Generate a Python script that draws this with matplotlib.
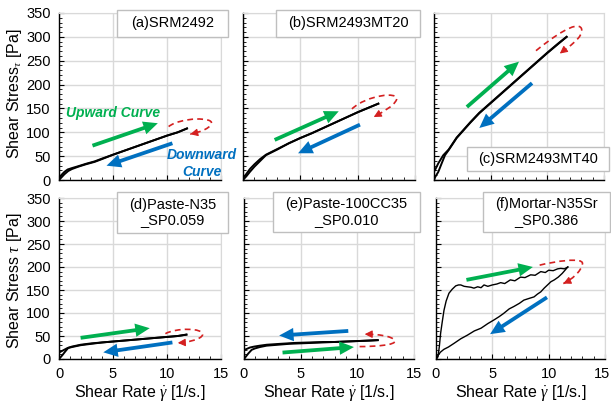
import numpy as np
import matplotlib
matplotlib.use('Agg')
import matplotlib.pyplot as plt
from matplotlib.path import Path
from matplotlib.patches import PathPatch, Rectangle
from matplotlib.ticker import MultipleLocator, FixedFormatter, FixedLocator

plt.rcParams['font.family'] = ['Liberation Sans', 'DejaVu Sans']
plt.rcParams['mathtext.fontset'] = 'custom'
plt.rcParams['mathtext.it'] = 'Liberation Serif:italic'
plt.rcParams['mathtext.rm'] = 'Liberation Sans'

# ---- data ----
labels = ['(a)SRM2492', '(b)SRM2493MT20', '(c)SRM2493MT40',
          '(d)Paste-N35\n_SP0.059', '(e)Paste-100CC35\n_SP0.010', '(f)Mortar-N35Sr\n_SP0.386']
x_ticks = [0, 5, 10, 15]

a_up_x = [0, 0.25, 0.5, 0.86, 1.2, 1.8, 2.5, 3.3, 4, 5, 6, 7, 8, 9, 10, 11, 11.85]
a_up_y = [0, 6, 12, 19, 23, 28, 33, 38, 44, 53, 61, 69, 77, 85, 93, 100, 108]
a_dn_x = [11.85, 11, 10, 9, 8, 7, 6, 5, 4, 3.3, 2.5, 1.8, 1.2, 0.8, 0.5, 0.2, 0]
a_dn_y = [108, 100, 93, 85, 77, 69, 61, 53, 45, 39, 34, 29, 25, 22, 17, 10, 3]

b_up_x = [0, 0.3, 0.6, 1, 1.5, 2, 3, 4, 5, 6, 7, 8, 9, 10, 11, 11.8]
b_up_y = [0, 8, 17, 28, 40, 52, 64, 77, 88, 98, 109, 120, 131, 142, 152, 160]
b_dn_x = [11.8, 11, 10, 9, 8, 7, 6, 5, 4, 3, 2, 1.5, 1, 0.6, 0.3, 0]
b_dn_y = [160, 152, 142, 131, 120, 109, 98, 88, 77, 65, 53, 44, 33, 23, 13, 4]

c_up_x = [0, 0.1, 0.38, 0.68, 0.97, 1.3, 2, 2.6, 3.2, 4, 5, 6, 7, 8, 9, 10, 11, 11.7]
c_up_y = [0, 6, 17, 35, 52, 63, 88, 104, 120, 140, 161, 182, 203, 224, 245, 266, 286, 300]
c_dn_x = [11.7, 11, 10, 9, 8, 7, 6, 5, 4, 3.2, 2.6, 2, 1.3, 0.82, 0.38, 0.09, 0]
c_dn_y = [300, 287, 267, 246, 225, 204, 183, 162, 141, 121, 105, 89, 64, 52, 35, 21, 18]

d_up_x = [0, 0.3, 0.6, 0.85, 1.2, 2, 3, 4, 5, 6, 7, 8, 9, 10, 11, 11.8]
d_up_y = [0, 8, 17, 24, 26, 30, 33, 36, 38, 40, 42, 44, 46, 48, 50, 53]
d_dn_x = [11.8, 11, 10, 9, 8, 7, 6, 5, 4, 3, 2, 1.2, 0.8, 0.4, 0]
d_dn_y = [53, 50, 48, 46, 44, 42, 40, 38, 36, 34, 31, 27, 24, 19, 14]

e_up_x = [0, 0.38, 0.68, 0.97, 1.4, 2, 3, 4, 5, 6, 7, 8, 9, 10, 11, 11.8]
e_up_y = [0, 12, 20, 23, 26, 29, 31, 33, 34, 35, 36, 37, 38, 39, 40, 41]
e_dn_x = [11.8, 11, 10, 9, 8, 7, 5.8, 4.5, 3.2, 2, 1.4, 0.9, 0.53, 0.25, 0.05]
e_dn_y = [41, 40, 39, 38, 37, 37, 36, 35, 33, 31, 29, 27, 25, 22, 20]

f_up_x = [0, 0.1, 0.18, 0.3, 0.41, 0.55, 0.71, 0.9, 1.15, 1.45, 1.75, 2.0, 2.2, 2.5, 2.78, 3.1, 3.37,
          3.7, 4.0, 4.26, 4.6, 5.0, 5.4, 5.74, 6.1, 6.6, 7.0, 7.5, 7.9, 8.4, 8.8, 9.3, 9.7,
          10.0, 10.4, 10.8, 11.07, 11.4, 11.7]
f_up_y = [0, 2, 5, 28, 56, 80, 106, 126, 143, 152, 159, 161, 161, 158, 157, 156, 154,
          157, 155, 161, 158, 161, 163, 166, 164, 172, 170, 178, 177, 183, 182, 190, 188,
          193, 192, 196, 197, 196, 200]
f_dn_x = [11.7, 11.45, 11.2, 10.85, 10.5, 10.2, 9.9, 9.6, 9.3, 9.0, 8.7, 8.3, 7.8, 7.4, 6.9, 6.5,
          6.0, 5.6, 5.15, 4.6, 4.0, 3.4, 2.8, 2.2, 1.6, 1.1, 0.7, 0.4, 0.18, 0]
f_dn_y = [200, 193, 186, 178, 172, 168, 161, 154, 146, 141, 135, 132, 128, 121, 114, 109,
          99, 92, 85, 77, 67, 61, 52, 44, 34, 26, 21, 15, 8, 0]

curves = [(a_up_x, a_up_y, a_dn_x, a_dn_y), (b_up_x, b_up_y, b_dn_x, b_dn_y),
          (c_up_x, c_up_y, c_dn_x, c_dn_y), (d_up_x, d_up_y, d_dn_x, d_dn_y),
          (e_up_x, e_up_y, e_dn_x, e_dn_y), (f_up_x, f_up_y, f_dn_x, f_dn_y)]

# arrows (start -> end) in data units
green_arrows = [((3.1, 72), (9.15, 119)), ((2.76, 84), (8.35, 144)), ((2.9, 153), (7.5, 248)),
                ((2.0, 46), (8.4, 67)), ((3.4, 14), (9.7, 26)), ((2.7, 172), (8.6, 200))]
blue_arrows = [((10.5, 77), (4.4, 30)), ((10.2, 116), (4.8, 56)), ((8.65, 203), (4.0, 109)),
               ((10.5, 36), (4.1, 14.5)), ((9.2, 61), (3.1, 51)), ((9.85, 134), (4.8, 54))]
# dashed red loops: start, c1, c2, mid, c3, c4, end (cubic bezier)
red_loops = [
    [(10.15, 112), (11.3, 132), (14.4, 132), (14.1, 118), (13.9, 106), (12.9, 100), (12.15, 96)],
    [(9.5, 149), (10.8, 178), (13.6, 186), (13.4, 169), (13.2, 155), (12.0, 140), (11.4, 132)],
    [(9.0, 271), (10.5, 300), (12.6, 335), (13.0, 318), (13.3, 300), (11.8, 278), (11.1, 265)],
    [(9.85, 55), (10.8, 68), (13.4, 68), (13.3, 53), (13.2, 42), (11.8, 36), (11.0, 35)],
    [(10.2, 27), (11.5, 27), (13.5, 30), (13.3, 40), (13.1, 50), (11.8, 54), (10.65, 54)],
    [(9.2, 204), (10.5, 212), (13.1, 222), (13.0, 207), (12.9, 190), (12.0, 172), (11.3, 164)],
]

GREEN = '#00B050'
BLUE = '#0070C0'
RED = '#D42020'
GRID = '#D9D9D9'

W, H = 611, 405
fig = plt.figure(figsize=(6.11, 4.05), dpi=100)

# axes rectangles in pixels: left, top, width, height
rects = [(59, 13, 162, 167), (243, 13, 172, 167), (434, 13, 170, 167),
         (59, 198, 162, 161), (244, 198, 170, 161), (436, 198, 169, 161)]
# label boxes in pixels: x0, y0, x1, y1
boxes = [(117, 10, 228, 37), (276, 10, 420, 37), (467, 147, 609, 171),
         (117, 192, 228, 233), (273, 192, 420, 232), (483, 192, 610, 232)]

for i, (l, t, w, h) in enumerate(rects):
    ax = fig.add_axes([l / W, 1 - (t + h) / H, w / W, h / H])
    ax.set_xlim(0, 15)
    ax.set_ylim(0, 350)
    ax.xaxis.set_major_locator(FixedLocator(x_ticks))
    ax.xaxis.set_minor_locator(MultipleLocator(1))
    ax.yaxis.set_major_locator(MultipleLocator(50))
    ax.yaxis.set_minor_locator(MultipleLocator(10))
    ax.grid(True, which='major', color=GRID, lw=1)
    ax.set_axisbelow(True)
    for s in ['top', 'right']:
        ax.spines[s].set_color(GRID)
    for s in ['left', 'bottom']:
        ax.spines[s].set_color('black')
        ax.spines[s].set_linewidth(1.0)
    ax.tick_params(which='both', direction='in', top=False, right=False,
                   labelsize=10.5, pad=6)
    ax.tick_params(which='major', length=3.5)
    ax.tick_params(which='minor', length=2.5)
    if i % 3 != 0:
        ax.tick_params(labelleft=False)
    if i < 3:
        ax.tick_params(labelbottom=False)
    else:
        ax.set_xlabel(r'Shear Rate $\dot{\gamma}$ [1/s.]', fontsize=11.5, labelpad=1)
    if i == 5:
        # last label sits at the figure edge: draw it right-aligned
        ax.xaxis.set_major_formatter(FixedFormatter([str(v) for v in x_ticks[:-1]] + ['']))
        ax.annotate(str(x_ticks[-1]), xy=(x_ticks[-1], 0), xytext=(4, -6),
                    textcoords='offset points', ha='right', va='top', fontsize=10.5,
                    annotation_clip=False)

    ux, uy, dx, dy = curves[i]
    lw = 1.0 if i == 5 else 1.4
    ax.plot(ux, uy, color='black', lw=lw, zorder=3)
    ax.plot(dx, dy, color='black', lw=lw, zorder=3)

    for (s, e), col in [(green_arrows[i], GREEN), (blue_arrows[i], BLUE)]:
        ax.annotate('', xy=e, xytext=s,
                    arrowprops=dict(arrowstyle='simple,tail_width=0.17,head_width=0.6,head_length=0.65',
                                    color=col, lw=0, mutation_scale=16,
                                    shrinkA=0, shrinkB=0), zorder=4)

    pts = red_loops[i]
    codes = [Path.MOVETO] + [Path.CURVE4] * 6
    ax.add_patch(PathPatch(Path(pts, codes), fill=False, edgecolor=RED, lw=1.2,
                           ls=(0, (3.5, 2.5)), zorder=4))
    c4, end = np.array(pts[5]), np.array(pts[6])
    back = end + (c4 - end) * 0.3
    ax.annotate('', xy=end, xytext=back,
                arrowprops=dict(arrowstyle='-|>,head_width=0.25,head_length=0.5',
                                color=RED, lw=0.8, mutation_scale=9,
                                shrinkA=0, shrinkB=0), zorder=4)

    if i == 0:
        ax.text(5.0, 140, 'Upward Curve', color=GREEN, fontsize=10,
                fontweight='bold', fontstyle='italic', ha='center', va='center')
        ax.text(13.2, 35, 'Downward\nCurve', color=BLUE, fontsize=10,
                fontweight='bold', fontstyle='italic', ha='center', va='center',
                linespacing=1.25, clip_on=False, zorder=5)

# label boxes
for (x0, y0, x1, y1), lab in zip(boxes, labels):
    fig.patches.append(Rectangle((x0 / W, 1 - y1 / H), (x1 - x0) / W, (y1 - y0) / H,
                                 transform=fig.transFigure, facecolor='white',
                                 edgecolor='#BFBFBF', lw=1, zorder=10))
    fig.text((x0 + x1) / 2 / W, 1 - (y0 + y1) / 2 / H, lab, fontsize=10.5,
             ha='center', va='center', linespacing=1.1, zorder=11)

fig.text(15 / W, 1 - 94 / H, r'Shear Stress$_{\tau}$ [Pa]', rotation=90,
         fontsize=11.5, ha='center', va='center')
fig.text(15 / W, 1 - 281 / H, r'Shear Stress $\tau$ [Pa]', rotation=90,
         fontsize=11.5, ha='center', va='center')

fig.savefig('out.png', dpi=100)
